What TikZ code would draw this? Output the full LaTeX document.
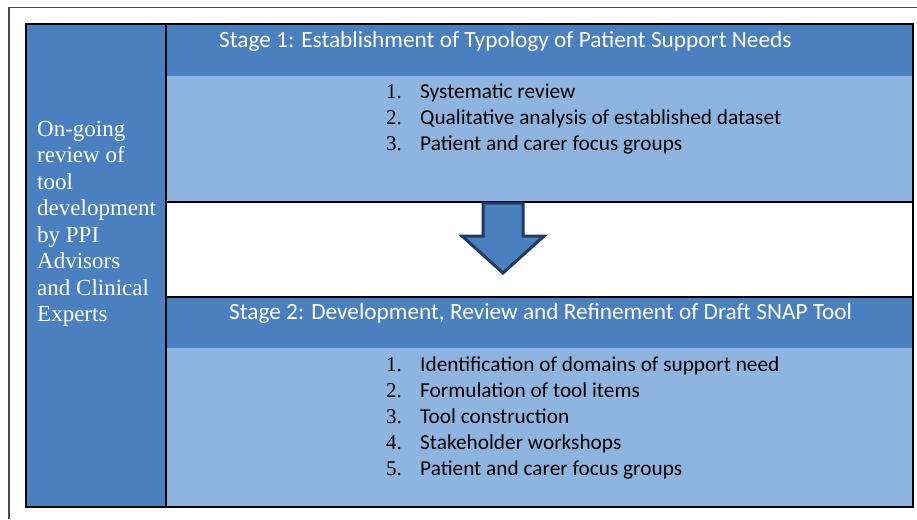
\documentclass[tikz,border=0pt]{standalone}
\usepackage{fontspec}
\setmainfont{Liberation Serif}
\newfontfamily\calibri{Carlito}
\definecolor{hdblue}{RGB}{74,128,192}
\definecolor{bdblue}{RGB}{142,180,224}
\definecolor{arrowline}{RGB}{31,58,96}
\begin{document}
\begin{tikzpicture}[x=1pt,y=-1pt,
    panel/.style={anchor=north west,inner sep=0pt,outer sep=0pt,minimum width=747},
    sidetext/.style={anchor=base west,inner sep=0pt,text=white,font=\fontsize{23}{26}\selectfont},
    title/.style={anchor=base west,inner sep=0pt,text=white,font=\calibri\fontsize{23.3}{26}\selectfont},
    item/.style={anchor=base west,inner sep=0pt,font=\calibri\fontsize{21.3}{26}\selectfont},
    num/.style={anchor=base west,inner sep=0pt,font=\fontsize{21}{26}\selectfont}]
  \useasboundingbox (0,0) rectangle (917,519);
  \fill[white] (0,0) rectangle (917,519);
  \draw[gray!60!black,line width=1.2pt] (917,7.5) -- (9,7.5) -- (9,519);

  % panels
  \node[panel,fill=hdblue,minimum width=140,minimum height=483] (side) at (26,24) {};
  \node[panel,fill=hdblue,minimum height=52] (head1) at (166,24) {};
  \node[panel,fill=bdblue,minimum height=126] (body1) at (166,76) {};
  \node[panel,fill=hdblue,minimum height=51] (head2) at (166,297) {};
  \node[panel,fill=bdblue,minimum height=159] (body2) at (166,348) {};

  % borders
  \begin{scope}[line width=1.3pt]
    \draw (side.north west) rectangle (body2.south east);
    \draw (side.north east) -- (side.south east);
    \draw (body1.south west) -- (body1.south east);
    \draw (head2.north west) -- (head2.north east);
  \end{scope}

  % arrow
  \draw[fill=hdblue,draw=arrowline,line width=3pt,line join=miter]
    (483,203) -- (523,203) -- (523,236) -- (544,236) -- (503,273)
    -- (462,236) -- (483,236) -- cycle;

  % left column
  \foreach \txt [count=\i] in {On-going,review of,tool,development,by PPI,Advisors,and Clinical,Experts}
    \node[sidetext] (side\i) at (37,136+26.5*\i-26.5) {\txt};

  % stage 1
  \node[title] (title1) at (219,48) {Stage 1: Establishment of Typology of Patient Support Needs};
  \foreach \txt [count=\i] in {Systematic review,Qualitative analysis of established dataset,Patient and carer focus groups} {
    \node[num] (num1\i) at (386,98+26*\i-26) {\i.};
    \node[item] (item1\i) at (420,98+26*\i-26) {\txt};
  }

  % stage 2
  \node[title] (title2) at (229,319) {Stage 2: Development, Review and Refinement of Draft SNAP Tool};
  \foreach \txt [count=\i] in {Identification of domains of support need,Formulation of tool items,Tool construction,Stakeholder workshops,Patient and carer focus groups} {
    \node[num] (num2\i) at (386,371+26*\i-26) {\i.};
    \node[item] (item2\i) at (420,371+26*\i-26) {\txt};
  }
\end{tikzpicture}
\end{document}
